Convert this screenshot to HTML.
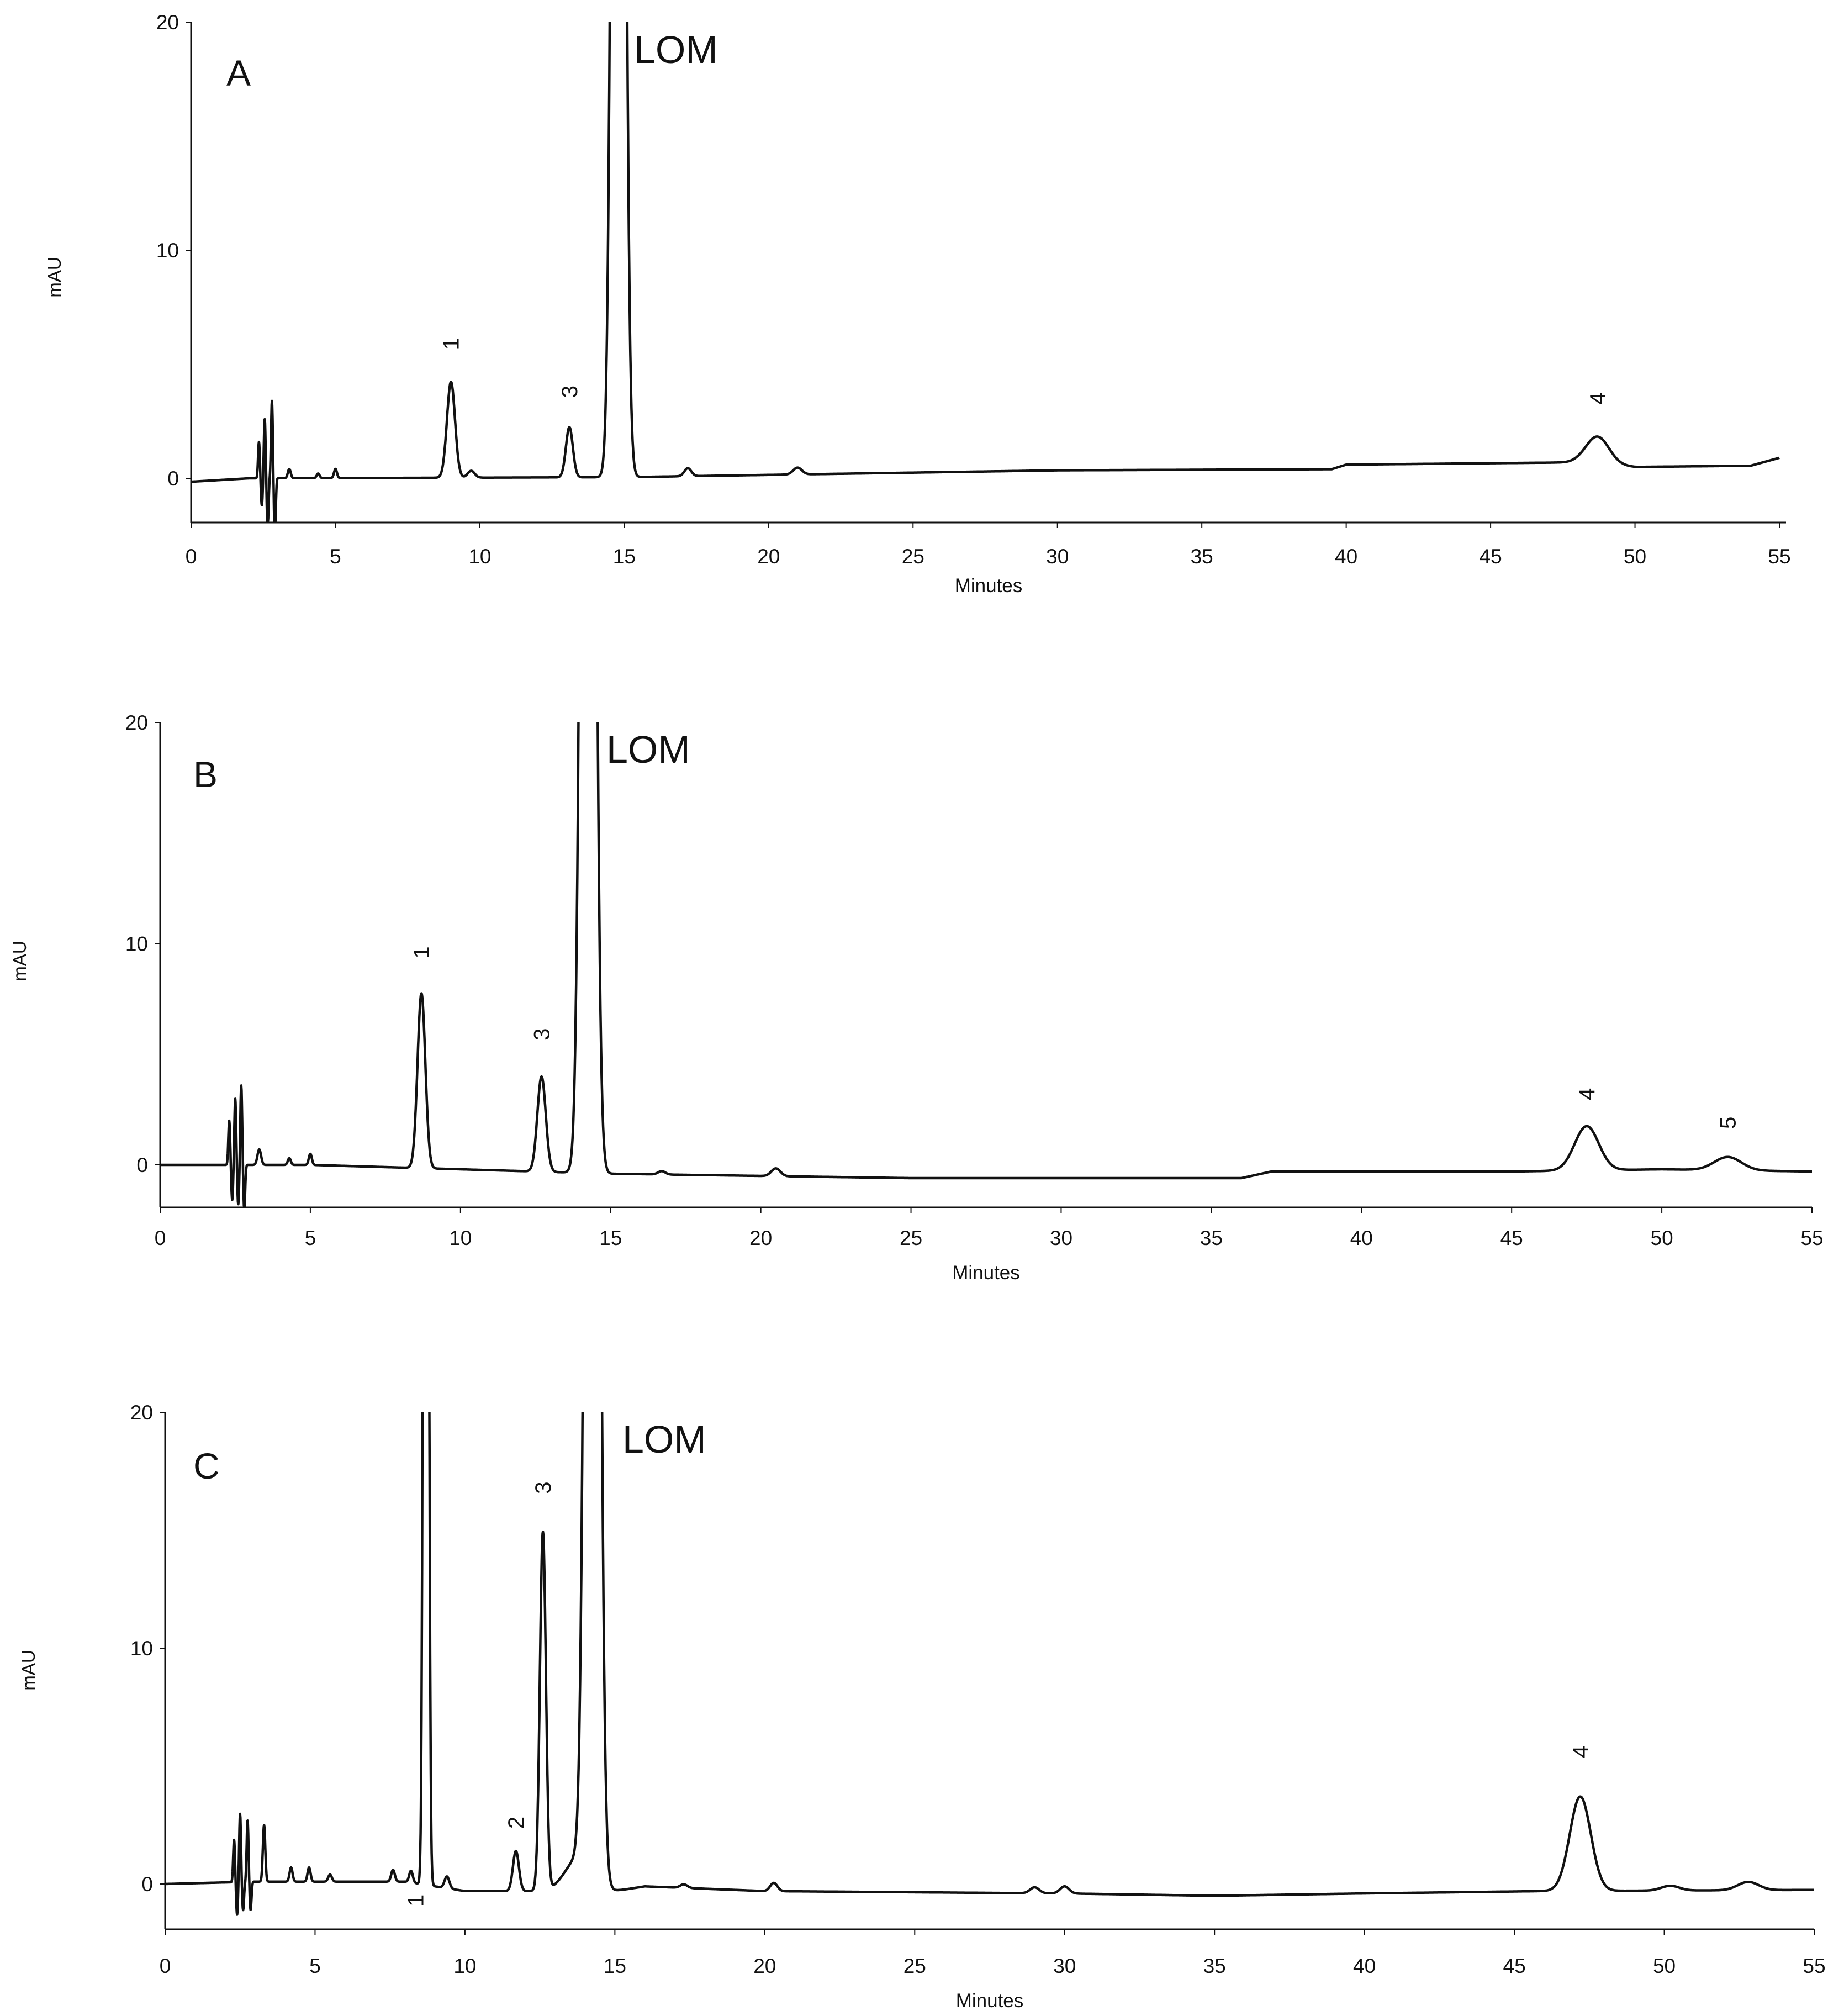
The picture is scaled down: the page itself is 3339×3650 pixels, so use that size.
<!DOCTYPE html>
<html><head><meta charset="utf-8">
<style>
html,body{margin:0;padding:0;background:#fff;}
svg{display:block;}
text{font-family:"Liberation Sans",Arial,sans-serif;fill:#111;}
</style></head>
<body>
<svg id="chart" width="3339" height="3650" viewBox="0 0 3339 3650" xmlns="http://www.w3.org/2000/svg"></svg>
<script>
const xTicks = [0,5,10,15,20,25,30,35,40,45,50,55];
const yTicks = [0,10,20];

// Panel A data
const peaksA_t = [2.35,2.45,2.55,2.65,2.8,2.9,3.4,4.4,5.0,9.0,9.7,13.1,14.8,17.2,21.0,48.7];
const peaksA_h = [1.6,-1.2,2.6,-2.2,3.4,-2.6,0.4,0.2,0.4,4.2,0.3,2.2,100,0.35,0.3,1.2];
const peaksA_w = [0.03,0.03,0.03,0.03,0.03,0.03,0.05,0.05,0.05,0.14,0.12,0.12,0.17,0.12,0.15,0.4];
const baseA_t = [0,2,15,25,30,39.5,40,48,50,54,55];
const baseA_v = [-0.15,0,0.05,0.25,0.35,0.4,0.6,0.7,0.5,0.55,0.9];

// Panel B data
const peaksB_t = [2.3,2.4,2.5,2.6,2.7,2.8,3.3,4.3,5.0,8.7,12.7,14.25,16.7,20.5,47.5,52.2];
const peaksB_h = [2,-1.6,3,-1.8,3.6,-2,0.7,0.3,0.5,7.9,4.3,100,0.15,0.35,2.0,0.6];
const peaksB_w = [0.03,0.03,0.03,0.03,0.03,0.03,0.06,0.05,0.05,0.13,0.14,0.18,0.12,0.15,0.4,0.45];
const baseB_t = [0,5,10,15,20,25,30,36,37,45,50,55];
const baseB_v = [0,0,-0.2,-0.4,-0.5,-0.6,-0.6,-0.6,-0.3,-0.3,-0.2,-0.3];

// Panel C data
const peaksC_t = [2.3,2.4,2.5,2.6,2.75,2.85,3.3,4.2,4.8,5.5,7.6,8.2,8.7,9.4,11.7,12.6,13.8,14.25,17.3,20.3,29.0,30.0,47.2,50.2,52.8];
const peaksC_h = [1.8,-1.4,2.9,-1.2,2.6,-1.2,2.4,0.6,0.6,0.3,0.5,0.5,100,0.5,1.7,15.2,1.4,100,0.15,0.35,0.25,0.3,4.0,0.2,0.35];
const peaksC_w = [0.03,0.03,0.03,0.03,0.03,0.03,0.04,0.05,0.05,0.06,0.06,0.06,0.065,0.08,0.1,0.1,0.45,0.18,0.12,0.12,0.15,0.15,0.35,0.3,0.35];
const baseC_t = [0,3,8,10,15,16,20,30,35,40,46,55];
const baseC_v = [0,0.1,0.1,-0.3,-0.3,-0.1,-0.3,-0.4,-0.5,-0.4,-0.3,-0.25];

const panels = [
  {id:'a', letter:'A', pt:peaksA_t, ph:peaksA_h, pw:peaksA_w, bt:baseA_t, bv:baseA_v,
   x0:346, x1:3222, y0:866, y20:40, axisY:946, axisEnd:3234, tickLblY:1020, minutesY:1072, mauX:110, mauY:502,
   letterX:410, letterY:155, lomX:1148, lomY:114,
   labels:[['1',9.0,5.9],['3',13.1,3.8],['4',48.7,3.5]]},
  {id:'b', letter:'B', pt:peaksB_t, ph:peaksB_h, pw:peaksB_w, bt:baseB_t, bv:baseB_v,
   x0:290, x1:3281, y0:2109, y20:1308, axisY:2186, axisEnd:3281, tickLblY:2254, minutesY:2316, mauX:47, mauY:1740,
   letterX:350, letterY:1425, lomX:1098, lomY:1381,
   labels:[['1',8.7,9.6],['3',12.7,5.9],['4',47.5,3.2],['5',52.2,1.9]]},
  {id:'c', letter:'C', pt:peaksC_t, ph:peaksC_h, pw:peaksC_w, bt:baseC_t, bv:baseC_v,
   x0:299, x1:3285, y0:3411, y20:2557, axisY:3493, axisEnd:3285, tickLblY:3572, minutesY:3634, mauX:63, mauY:3024,
   letterX:350, letterY:2677, lomX:1127, lomY:2630,
   labels:[['1',8.35,-0.7],['2',11.7,2.6],['3',12.6,16.8],['4',47.2,5.6]]}
];

const NS = 'http://www.w3.org/2000/svg';
const svg = document.getElementById('chart');
function mk(tag, attrs, parent){
  const e = document.createElementNS(NS, tag);
  for (const k in attrs) e.setAttribute(k, attrs[k]);
  (parent||svg).appendChild(e);
  return e;
}
function interp(ts, vs, t){
  if (t<=ts[0]) return vs[0];
  for (let i=1;i<ts.length;i++){
    if (t<=ts[i]) return vs[i-1]+(vs[i]-vs[i-1])*(t-ts[i-1])/(ts[i]-ts[i-1]);
  }
  return vs[vs.length-1];
}

panels.forEach(p=>{
  const g = mk('g',{});
  
  
  const sx = t => p.x0 + (p.x1-p.x0)*t/55;
  const sy = v => p.y0 - (p.y0-p.y20)*v/20;

  const clipId = 'clip-'+p.id;
  const cp = mk('clipPath',{id:clipId}, g);
  mk('rect',{x:p.x0,y:p.y20,width:p.x1-p.x0+10,height:p.axisY-p.y20+60}, cp);

  const ya = mk('line',{x1:p.x0,y1:p.y20,x2:p.x0,y2:p.axisY,stroke:'#111','stroke-width':3}, g);
  
  
  const xa = mk('line',{x1:p.x0,y1:p.axisY,x2:p.axisEnd,y2:p.axisY,stroke:'#111','stroke-width':3}, g);
  
  

  xTicks.forEach(t=>{
    mk('line',{x1:sx(t),y1:p.axisY,x2:sx(t),y2:p.axisY+10,stroke:'#111','stroke-width':2}, g);
    const tl = mk('text',{x:sx(t),y:p.tickLblY,'font-size':37,'text-anchor':'middle'}, g);
    tl.textContent = t;
    
    
  });
  yTicks.forEach(v=>{
    mk('line',{x1:p.x0-10,y1:sy(v),x2:p.x0,y2:sy(v),stroke:'#111','stroke-width':2}, g);
    const tl = mk('text',{x:p.x0-22,y:sy(v)+13,'font-size':37,'text-anchor':'end'}, g);
    tl.textContent = v;
    
    
  });
  const mt = mk('text',{x:(p.x0+p.axisEnd)/2,y:p.minutesY,'font-size':35,'text-anchor':'middle'}, g);
  mt.textContent='Minutes';
  
  
  const ma = mk('text',{x:p.mauX,y:p.mauY,'font-size':33,'text-anchor':'middle',transform:`rotate(-90 ${p.mauX} ${p.mauY})`}, g);
  ma.textContent='mAU';
  
  

  const lt = mk('text',{x:p.letterX,y:p.letterY,'font-size':66}, g);
  lt.textContent=p.letter;
  
  
  const lom = mk('text',{x:p.lomX,y:p.lomY,'font-size':70}, g);
  lom.textContent='LOM';
  
  

  let d='';
  for (let i=0;i<=5500;i++){
    const t=i*0.01;
    let v=interp(p.bt,p.bv,t);
    for (let k=0;k<p.pt.length;k++){
      const z=(t-p.pt[k])/p.pw[k];
      if (Math.abs(z)<6) v+=p.ph[k]*Math.exp(-0.5*z*z);
    }
    v=Math.max(-1.9,Math.min(21,v));
    d+=(i?'L':'M')+sx(t).toFixed(1)+' '+sy(v).toFixed(1);
  }
  const tr = mk('path',{d:d,fill:'none',stroke:'#111','stroke-width':4.5,'stroke-linejoin':'round','clip-path':`url(#${clipId})`}, g);
  
  

  p.labels.forEach(l=>{
    const x=sx(l[1]), y=sy(l[2]);
    const pl = mk('text',{x:x,y:y,'font-size':40,'text-anchor':'middle',transform:`rotate(-90 ${x} ${y})`,dy:14}, g);
    pl.textContent=l[0];
    
    
  });
});
</script>
</body></html>
